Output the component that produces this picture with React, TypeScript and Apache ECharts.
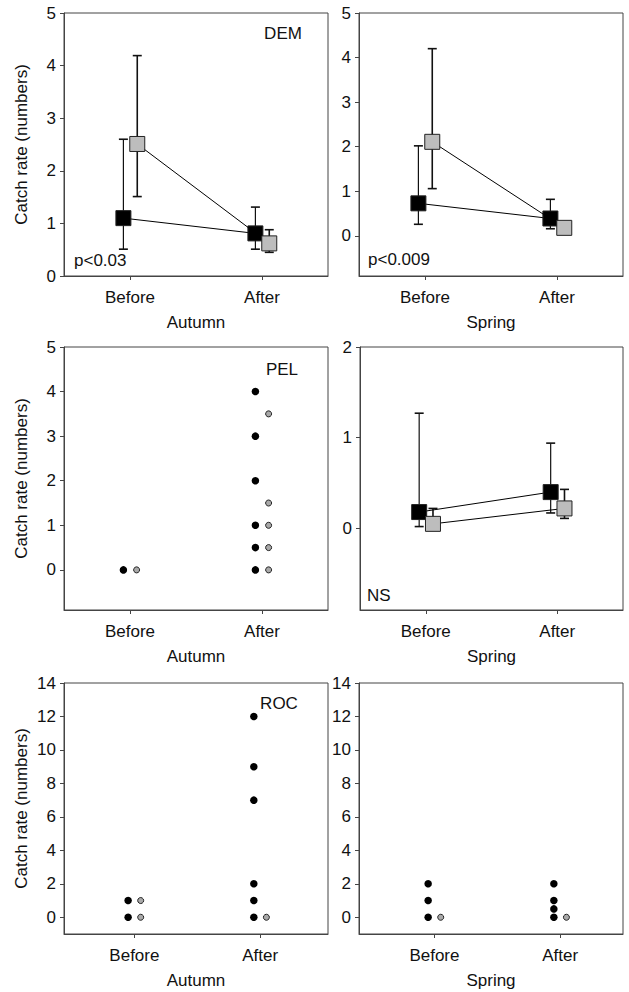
import React, { useEffect, useRef } from "react";
import * as echarts from "echarts";

// ---------- data ----------
const categories = ["Before", "After"];
const seasons = ["Autumn", "Spring"];
const yAxisTitle = "Catch rate (numbers)";

// DEM – Autumn (mean, lower, upper)
const demAutumnBlackMean = [1.1, 0.81];
const demAutumnBlackLow = [0.51, 0.51];
const demAutumnBlackHigh = [2.6, 1.31];
const demAutumnGreyMean = [2.51, 0.62];
const demAutumnGreyLow = [1.51, 0.45];
const demAutumnGreyHigh = [4.19, 0.88];

// DEM – Spring
const demSpringBlackMean = [0.73, 0.39];
const demSpringBlackLow = [0.26, 0.16];
const demSpringBlackHigh = [2.02, 0.82];
const demSpringGreyMean = [2.11, 0.18];
const demSpringGreyLow = [1.06, 0.12];
const demSpringGreyHigh = [4.2, 0.18];

// PEL – Autumn (individual catches)
const pelAutumnBlackBefore = [0];
const pelAutumnGreyBefore = [0];
const pelAutumnBlackAfter = [4, 3, 2, 1, 0.5, 0];
const pelAutumnGreyAfter = [3.5, 1.5, 1, 0.5, 0];

// PEL – Spring (mean, lower, upper)
const pelSpringBlackMean = [0.18, 0.4];
const pelSpringBlackLow = [0.02, 0.17];
const pelSpringBlackHigh = [1.27, 0.94];
const pelSpringGreyMean = [0.05, 0.22];
const pelSpringGreyLow = [0.0, 0.11];
const pelSpringGreyHigh = [0.22, 0.43];

// ROC – Autumn
const rocAutumnBlackBefore = [1, 0];
const rocAutumnGreyBefore = [1, 0];
const rocAutumnBlackAfter = [12, 9, 7, 2, 1, 0];
const rocAutumnGreyAfter = [0];

// ROC – Spring
const rocSpringBlackBefore = [2, 1, 0];
const rocSpringGreyBefore = [0];
const rocSpringBlackAfter = [2, 1, 0.5, 0];
const rocSpringGreyAfter = [0];

// tick labels
const ticksDem = [0, 1, 2, 3, 4, 5];
const ticksPelSpring = [0, 1, 2];
const ticksRoc = [0, 2, 4, 6, 8, 10, 12, 14];

// ---------- styles / layout ----------
const FONT = "'Liberation Sans', Arial, sans-serif";
const TEXT = "#111";
const FS = 17;
const BLACK = "#000";
const GREY = "#bdbdbd";
const DOT_GREY = "#a9a9a9";
const DODGE_B = -0.05;
const DODGE_G = 0.055;

type Panel = {
  left: number;
  top: number;
  width: number;
  height: number;
  xMin: number;
  xMax: number;
  yMin: number;
  yMax: number;
  ticks: number[];
  season: number;
  yTitle: boolean;
};

const panels: Panel[] = [
  { left: 64, top: 13, width: 264, height: 263, xMin: 0.5, xMax: 2.5, yMin: 0, yMax: 5, ticks: ticksDem, season: 0, yTitle: true },
  { left: 359, top: 13, width: 264, height: 263, xMin: 0.5, xMax: 2.5, yMin: -0.9, yMax: 5, ticks: ticksDem, season: 1, yTitle: false },
  { left: 64, top: 347, width: 264, height: 263, xMin: 0.5, xMax: 2.5, yMin: -0.9, yMax: 5, ticks: ticksDem, season: 0, yTitle: true },
  { left: 360, top: 347, width: 263, height: 263, xMin: 0.5, xMax: 2.5, yMin: -0.9, yMax: 2, ticks: ticksPelSpring, season: 1, yTitle: false },
  { left: 64, top: 683, width: 264, height: 251, xMin: 0.44, xMax: 2.54, yMin: -1, yMax: 14, ticks: ticksRoc, season: 0, yTitle: true },
  { left: 359, top: 683, width: 264, height: 251, xMin: 0.4, xMax: 2.5, yMin: -1, yMax: 14, ticks: ticksRoc, season: 1, yTitle: false },
];

function errorSeries(idx: number, mean: number[], low: number[], high: number[], dodge: number, width: number) {
  return {
    type: "custom",
    xAxisIndex: idx,
    yAxisIndex: idx,
    silent: true,
    z: 2,
    data: mean.map((_, i) => [i + 1 + dodge, low[i], high[i]]),
    renderItem: (params: any, api: any) => {
      const x = api.value(0);
      const lo = api.coord([x, api.value(1)]);
      const hi = api.coord([x, api.value(2)]);
      const cap = 4.5;
      const style = { stroke: "#111", lineWidth: width };
      const children: any[] = [
        { type: "line", shape: { x1: lo[0], y1: lo[1], x2: hi[0], y2: hi[1] }, style },
      ];
      if (Math.abs(lo[1] - hi[1]) > 0.5) {
        children.push({ type: "line", shape: { x1: hi[0] - cap, y1: hi[1], x2: hi[0] + cap, y2: hi[1] }, style: { stroke: "#111", lineWidth: 1.6 } });
        children.push({ type: "line", shape: { x1: lo[0] - cap, y1: lo[1], x2: lo[0] + cap, y2: lo[1] }, style: { stroke: "#111", lineWidth: 1.6 } });
      }
      return { type: "group", children };
    },
  };
}

function meanLine(idx: number, mean: number[], dodge: number, color: string, z: number) {
  return {
    type: "line",
    xAxisIndex: idx,
    yAxisIndex: idx,
    silent: true,
    z,
    data: mean.map((v, i) => [i + 1 + dodge, v]),
    symbol: "rect",
    symbolSize: 15,
    showSymbol: true,
    lineStyle: { color: "#000", width: 1 },
    itemStyle: { color, borderColor: "#222", borderWidth: 1, opacity: 1 },
  };
}

function meanPanel(idx: number, bm: number[], bl: number[], bh: number[], gm: number[], gl: number[], gh: number[]) {
  return [
    errorSeries(idx, bm, bl, bh, DODGE_B, 1.2),
    errorSeries(idx, gm, gl, gh, DODGE_G, 1.6),
    meanLine(idx, bm, DODGE_B, BLACK, 3),
    meanLine(idx, gm, DODGE_G, GREY, 4),
  ];
}

function dots(idx: number, before: number[], after: number[], dodge: number, grey: boolean) {
  const data = [
    ...before.map((v) => [1 + dodge, v]),
    ...after.map((v) => [2 + dodge, v]),
  ];
  return {
    type: "scatter",
    xAxisIndex: idx,
    yAxisIndex: idx,
    silent: true,
    data,
    symbol: "circle",
    symbolSize: grey ? 6 : 7.5,
    itemStyle: grey
      ? { color: DOT_GREY, borderColor: "#222", borderWidth: 1, opacity: 1 }
      : { color: BLACK, borderColor: BLACK, borderWidth: 0, opacity: 1 },
  };
}

function dotPanel(idx: number, bb: number[], ba: number[], gb: number[], ga: number[]) {
  return [dots(idx, bb, ba, -0.05, false), dots(idx, gb, ga, 0.05, true)];
}

export default function App() {
  const ref = useRef<HTMLDivElement>(null);

  useEffect(() => {
    if (!ref.current) return;
    const chart = echarts.init(ref.current, undefined, { renderer: "svg" });

    const grid = panels.map((p) => ({
      left: p.left,
      top: p.top,
      width: p.width,
      height: p.height,
      show: true,
      borderColor: "#444",
      borderWidth: 1,
      backgroundColor: "transparent",
      containLabel: false,
    }));

    const xAxis = panels.map((p, i) => ({
      type: "value",
      gridIndex: i,
      min: p.xMin,
      max: p.xMax,
      name: seasons[p.season],
      nameLocation: "middle",
      nameGap: 38,
      nameTextStyle: { fontFamily: FONT, fontSize: FS, color: TEXT },
      axisLine: { show: true, onZero: false, lineStyle: { color: "#444", width: 1 } },
      axisTick: { show: true, length: 4, customValues: [1, 2], lineStyle: { color: "#444" } },
      axisLabel: {
        show: true,
        customValues: [1, 2],
        margin: 13,
        fontFamily: FONT,
        fontSize: FS,
        color: TEXT,
        formatter: (v: number) => categories[Math.round(v) - 1] ?? "",
      },
      splitLine: { show: false },
    }));

    const yAxis = panels.map((p, i) => ({
      type: "value",
      gridIndex: i,
      min: p.yMin,
      max: p.yMax,
      name: p.yTitle ? yAxisTitle : "",
      nameLocation: "middle",
      nameGap: 34,
      nameTextStyle: { fontFamily: FONT, fontSize: FS, color: TEXT },
      axisLine: { show: true, onZero: false, lineStyle: { color: "#444", width: 1 } },
      axisTick: { show: true, length: 4, customValues: p.ticks, lineStyle: { color: "#444" } },
      axisLabel: {
        show: true,
        customValues: p.ticks,
        margin: 8,
        fontFamily: FONT,
        fontSize: FS,
        color: TEXT,
      },
      splitLine: { show: false },
    }));

    const series: any[] = [
      ...meanPanel(0, demAutumnBlackMean, demAutumnBlackLow, demAutumnBlackHigh, demAutumnGreyMean, demAutumnGreyLow, demAutumnGreyHigh),
      ...meanPanel(1, demSpringBlackMean, demSpringBlackLow, demSpringBlackHigh, demSpringGreyMean, demSpringGreyLow, demSpringGreyHigh),
      ...dotPanel(2, pelAutumnBlackBefore, pelAutumnBlackAfter, pelAutumnGreyBefore, pelAutumnGreyAfter),
      ...meanPanel(3, pelSpringBlackMean, pelSpringBlackLow, pelSpringBlackHigh, pelSpringGreyMean, pelSpringGreyLow, pelSpringGreyHigh),
      ...dotPanel(4, rocAutumnBlackBefore, rocAutumnBlackAfter, rocAutumnGreyBefore, rocAutumnGreyAfter),
      ...dotPanel(5, rocSpringBlackBefore, rocSpringBlackAfter, rocSpringGreyBefore, rocSpringGreyAfter),
    ];

    const txt = (text: string, x: number, y: number, align: string) => ({
      type: "text",
      x,
      y,
      silent: true,
      style: { text, fontFamily: FONT, fontSize: FS, fill: TEXT, textAlign: align, textVerticalAlign: "middle" },
    });

    chart.setOption({
      animation: false,
      backgroundColor: "#fff",
      grid,
      xAxis,
      yAxis,
      series,
      graphic: [
        txt("DEM", 283, 33, "center"),
        txt("p<0.03", 74, 260, "left"),
        txt("p<0.009", 368, 259, "left"),
        txt("PEL", 282, 369, "center"),
        txt("NS", 367, 595, "left"),
        txt("ROC", 279, 703, "center"),
      ],
    });

    return () => chart.dispose();
  }, []);

  return (
    <div
      ref={ref}
      style={{ position: "fixed", left: 0, top: 0, width: 629, height: 992, background: "#fff" }}
    />
  );
}
